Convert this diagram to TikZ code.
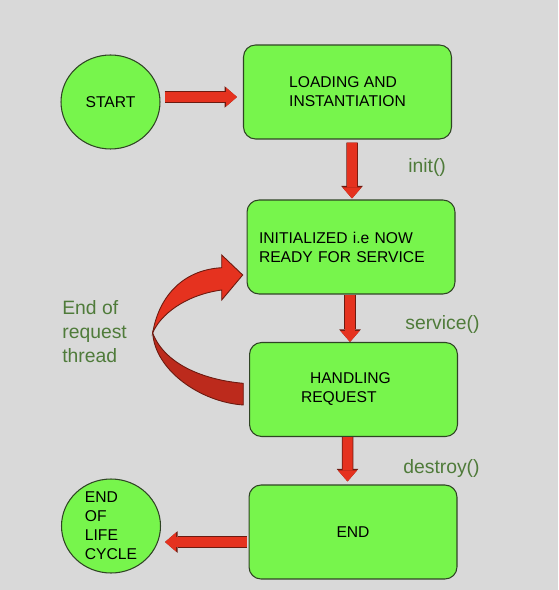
\documentclass[tikz,border=0pt]{standalone}
\usepackage{fontspec}
\setmainfont{Liberation Sans}
\usepackage{tikz}
\usetikzlibrary{arrows.meta,positioning,shapes.geometric,calc}
\definecolor{bggray}{HTML}{D9D9D9}
\definecolor{stagegreen}{HTML}{77F54C}
\definecolor{edgegreen}{HTML}{2F4424}
\definecolor{arrowred}{HTML}{E5321F}
\definecolor{arrowdark}{HTML}{BC2A1C}
\definecolor{arrowedge}{HTML}{6B1A10}
\definecolor{labelgreen}{HTML}{4F7B3A}
\newcommand{\boxfont}{\fontsize{8.9}{10.8}\selectfont}
\newcommand{\labelfont}{\fontsize{11}{13.7}\selectfont}

\tikzset{
  stage/.style={rectangle,rounded corners=0.24cm,draw=edgegreen,line width=0.6pt,
    fill=stagegreen,minimum width=4.16cm,minimum height=1.88cm,font=\boxfont,align=left},
  terminal/.style={ellipse,draw=edgegreen,line width=0.6pt,fill=stagegreen,
    minimum width=1.98cm,minimum height=1.88cm,inner sep=0pt,font=\boxfont,align=left},
  flow/.style={draw=arrowred,line width=0.2cm,
    -{Triangle[length=0.22cm,width=0.38cm,line width=0pt]},
    preaction={draw=arrowedge,line width=0.23cm,
      -{Triangle[length=0.25cm,width=0.43cm,line width=0pt]}}},
  callout/.style={text=labelgreen,font=\labelfont,anchor=west,inner sep=0pt,align=left},
}

\begin{document}
\begin{tikzpicture}[x=0.02cm,y=-0.02cm]
  % ---- background ----
  \fill[bggray] (0,0) rectangle (558,590);
  % ---- states ----
  \node[terminal] (start) at (110.5,102) {START};
  \node[stage] (load) at (347.5,92) {LOADING AND\\INSTANTIATION};
  \node[stage,text width=3.68cm,inner xsep=0.24cm] (init) at (351,247)
        {INITIALIZED i.e NOW\\READY FOR SERVICE};
  \node[stage,text width=2.1cm,inner xsep=1.02cm] (handling) at (353.5,389.5)
        {\hspace*{0.18cm}HANDLING\\REQUEST};
  \node[stage] (end) at (353,532) {END};
  \node[terminal,label={[font=\boxfont,align=left]center:{END\\OF\\LIFE\\CYCLE}}]
        (eol) at (111,526) {};
  % ---- transitions ----
  \draw[flow] ($(start.east)+(4,-5)$) -- ($(load.west)+(-6,5)$);
  \draw[flow] ($(load.south)+(4.5,3)$) -- ($(init.north)+(1,-1)$);
  \draw[flow] ($(init.south)+(-1,0)$) -- ($(handling.north)+(-3.5,0)$);
  \draw[flow] ($(handling.south)+(-6,0)$) -- ($(end.north)+(-5.5,-3)$);
  \draw[flow] ($(end.west)+(-2,10)$) -- ($(eol.east)+(4,16)$);
  % ---- method labels ----
  \node[callout] (initlbl) at (408,168) {init()};
  \node[callout] (servicelbl) at (405,324) {service()};
  \node[callout] (destroylbl) at (403,469) {destroy()};
  \node[callout,anchor=north west] (looplbl) at (62,300) {End of\\request\\thread};
  % ---- curved return arrow (ribbon) ----
  \filldraw[arrowdark,draw=arrowedge,line width=0.5pt]
    (152.7,333) .. controls (155,370) and (200,402) .. (243.3,405)
    -- (243.3,383.3) .. controls (205,380) and (165,365) .. (152.7,333) -- cycle;
  \filldraw[arrowred,draw=arrowedge,line width=0.5pt]
    (221.7,267.7) .. controls (180,270) and (158,300) .. (152.7,333)
    .. controls (160,315) and (185,295) .. (221.7,290)
    -- (221.7,300) -- (242.7,275) -- (221.7,255) -- cycle;
\end{tikzpicture}
\end{document}
